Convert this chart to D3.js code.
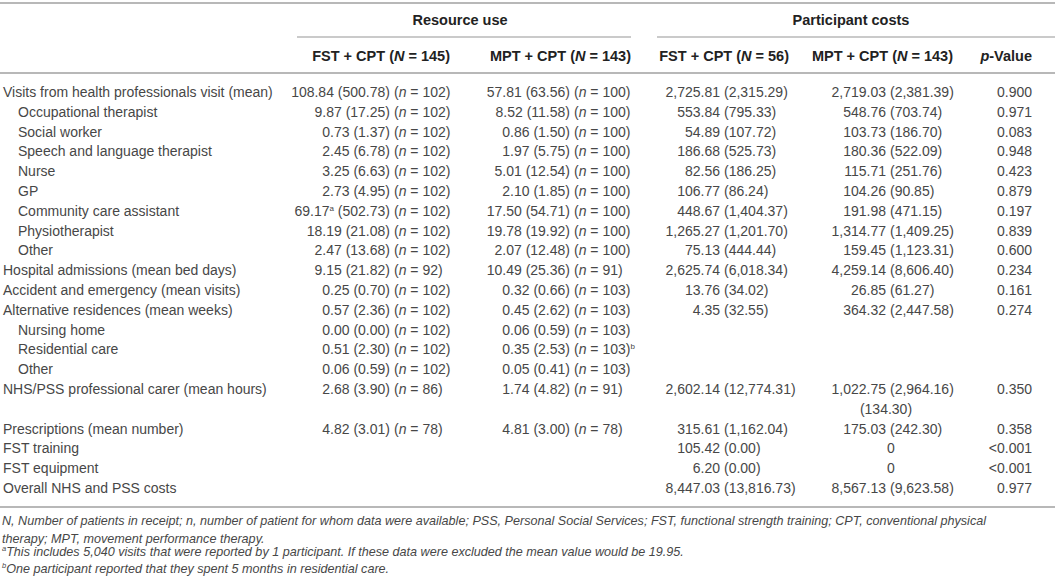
<!DOCTYPE html>
<html>
<head>
<meta charset="utf-8">
<script src="https://cdn.jsdelivr.net/npm/d3@7"></script>
<style>
  body { margin: 0; background: #fff; }
  svg { display: block; font-family: "Liberation Sans", Arial, sans-serif; }
</style>
</head>
<body>
<svg id="table"></svg>
<script>
// table data
const rowLabels = [
    "Visits from health professionals visit (mean)", "Occupational therapist", "Social worker",
    "Speech and language therapist", "Nurse", "GP", "Community care assistant", "Physiotherapist",
    "Other", "Hospital admissions (mean bed days)", "Accident and emergency (mean visits)",
    "Alternative residences (mean weeks)", "Nursing home", "Residential care", "Other",
    "NHS/PSS professional carer (mean hours)", "", "Prescriptions (mean number)",
    "FST training", "FST equipment", "Overall NHS and PSS costs"
];
const rowIndent = [0, 1, 1, 1, 1, 1, 1, 1, 1, 0, 0, 0, 1, 1, 1, 0, 0, 0, 0, 0, 0];

const fstUseMean = [108.84, 9.87, 0.73, 2.45, 3.25, 2.73, 69.17, 18.19, 2.47, 9.15, 0.25, 0.57, 0.00, 0.51, 0.06, 2.68, null, 4.82, null, null, null];
const fstUseSd   = [500.78, 17.25, 1.37, 6.78, 6.63, 4.95, 502.73, 21.08, 13.68, 21.82, 0.70, 2.36, 0.00, 2.30, 0.59, 3.90, null, 3.01, null, null, null];
const fstUseN    = [102, 102, 102, 102, 102, 102, 102, 102, 102, 92, 102, 102, 102, 102, 102, 86, null, 78, null, null, null];

const mptUseMean = [57.81, 8.52, 0.86, 1.97, 5.01, 2.10, 17.50, 19.78, 2.07, 10.49, 0.32, 0.45, 0.06, 0.35, 0.05, 1.74, null, 4.81, null, null, null];
const mptUseSd   = [63.56, 11.58, 1.50, 5.75, 12.54, 1.85, 54.71, 19.92, 12.48, 25.36, 0.66, 2.62, 0.59, 2.53, 0.41, 4.82, null, 3.00, null, null, null];
const mptUseN    = [100, 100, 100, 100, 100, 100, 100, 100, 100, 91, 103, 103, 103, 103, 103, 91, null, 78, null, null, null];

const fstCostMean = [2725.81, 553.84, 54.89, 186.68, 82.56, 106.77, 448.67, 1265.27, 75.13, 2625.74, 13.76, 4.35, null, null, null, 2602.14, null, 315.61, 105.42, 6.20, 8447.03];
const fstCostSd   = [2315.29, 795.33, 107.72, 525.73, 186.25, 86.24, 1404.37, 1201.70, 444.44, 6018.34, 34.02, 32.55, null, null, null, 12774.31, null, 1162.04, 0.00, 0.00, 13816.73];
const mptCostMean = [2719.03, 548.76, 103.73, 180.36, 115.71, 104.26, 191.98, 1314.77, 159.45, 4259.14, 26.85, 364.32, null, null, null, 1022.75, null, 175.03, 0, 0, 8567.13];
const mptCostSd   = [2381.39, 703.74, 186.70, 522.09, 251.76, 90.85, 471.15, 1409.25, 1123.31, 8606.40, 61.27, 2447.58, null, null, null, 2964.16, 134.30, 242.30, null, null, 9623.58];

const pValues = ["0.900", "0.971", "0.083", "0.948", "0.423", "0.879", "0.197", "0.839", "0.600", "0.234", "0.161", "0.274", "", "", "", "0.350", "", "0.358", "<0.001", "<0.001", "0.977"];

// footnote markers: [row, where, letter]
const superscripts = [[6, "fstMean", "a"], [13, "mptN", "b"]];

const groupHeaders = ["Resource use", "Participant costs"];
const colHeaders = [
    ["FST + CPT (", "N", " = 145)"], ["MPT + CPT (", "N", " = 143)"],
    ["FST + CPT (", "N", " = 56)"], ["MPT + CPT (", "N", " = 143)"], ["", "p", "-Value"]
];

const footnotes = [
    "N, Number of patients in receipt; n, number of patient for whom data were available; PSS, Personal Social Services; FST, functional strength training; CPT, conventional physical",
    "therapy; MPT, movement performance therapy.",
    "This includes 5,040 visits that were reported by 1 participant. If these data were excluded the mean value would be 19.95.",
    "One participant reported that they spent 5 months in residential care."
];
const footnoteMarks = ["", "", "a", "b"];

const width = 1055, height = 586;
const fmt = d3.format(",.2f");
const textColor = "#474747", headColor = "#222", ruleColor = "#b8b8b8";

const svg = d3.select("#table").attr("width", width).attr("height", height);
svg.append("rect").attr("width", width).attr("height", height).attr("fill", "#fff");

// row positions
const y = d3.scaleLinear().domain([0, rowLabels.length - 1]).range([92, 488]);

// column anchors (split points for aligned text)
const col = {
    labelX: 3, indentX: 18,
    useFstSplit: 390, useMptSplit: 570,
    costFstSplit: 720, costMptSplit: 886,
    pRight: 1032
};

// rules
function rule(x1, x2, yy, w) {
    svg.append("line").attr("x1", x1).attr("x2", x2).attr("y1", yy).attr("y2", yy)
        .attr("stroke", ruleColor).attr("stroke-width", w);
}
rule(0, width, 3, 2);
rule(297, 631, 37, 1.5);
rule(657, width, 37, 1.5);
rule(0, width, 73, 2);
rule(0, width, 507, 2);

// group headers
const groupX = [460, 851];
svg.selectAll(".group").data(groupHeaders).enter().append("text")
    .attr("class", "group")
    .attr("x", (d, i) => groupX[i]).attr("y", 20).attr("dy", "0.35em")
    .attr("text-anchor", "middle")
    .attr("font-size", 14.5).attr("font-weight", "bold").attr("fill", headColor)
    .text(d => d);

// column headers
const headX = [450, 631, 789, 953, 1032];
const head = svg.selectAll(".colhead").data(colHeaders).enter().append("text")
    .attr("class", "colhead")
    .attr("x", (d, i) => headX[i]).attr("y", 56).attr("dy", "0.35em")
    .attr("text-anchor", "end")
    .attr("font-size", 14.5).attr("font-weight", "bold").attr("fill", headColor);
head.filter(d => d[0]).append("tspan").text(d => d[0]);
head.append("tspan").attr("font-style", "italic").text(d => d[1]);
head.append("tspan").text(d => d[2]);

// body
const body = svg.append("g").attr("font-size", 14).attr("fill", textColor);

const rows = rowLabels.map((label, i) => ({ label, i })).filter(d => d.label);
body.selectAll(".label").data(rows).enter().append("text")
    .attr("class", "label")
    .attr("x", d => rowIndent[d.i] ? col.indentX : col.labelX)
    .attr("y", d => y(d.i)).attr("dy", "0.35em")
    .text(d => d.label);

// raised letter; the following tspan is dropped back by `back`
function sup(sel, letter) {
    sel.append("tspan").attr("font-size", 8).attr("dy", -5).text(letter);
}

// resource use columns: "mean (sd)" right aligned, "(n = x)" starts at the split
function useColumn(means, sds, ns, split, key) {
    means.forEach((m, i) => {
        if (m === null) return;
        const left = body.append("text").attr("x", split).attr("y", y(i)).attr("dy", "0.35em")
            .attr("text-anchor", "end");
        left.append("tspan").text(fmt(m));
        const supMean = superscripts.filter(s => s[0] === i && s[1] === key + "Mean");
        supMean.forEach(s => sup(left, s[2]));
        left.append("tspan").attr("dy", supMean.length ? 5 : null).text(" (" + fmt(sds[i]) + ")");

        const right = body.append("text").attr("x", split + 4).attr("y", y(i)).attr("dy", "0.35em");
        right.append("tspan").text("(");
        right.append("tspan").attr("font-style", "italic").text("n");
        right.append("tspan").text(" = " + ns[i] + ")");
        superscripts.filter(s => s[0] === i && s[1] === key + "N").forEach(s => sup(right, s[2]));
    });
}
useColumn(fstUseMean, fstUseSd, fstUseN, col.useFstSplit, "fst");
useColumn(mptUseMean, mptUseSd, mptUseN, col.useMptSplit, "mpt");

// cost columns: mean right aligned at the split, "(sd)" after it
function costColumn(means, sds, split) {
    means.forEach((m, i) => {
        if (m === null && sds[i] !== null) {
            // wrapped continuation of the cell above
            body.append("text").attr("x", split).attr("y", y(i)).attr("dy", "0.35em")
                .attr("text-anchor", "middle").text("(" + fmt(sds[i]) + ")");
            return;
        }
        if (m === null) return;
        if (sds[i] === null) {
            body.append("text").attr("x", split + 5).attr("y", y(i)).attr("dy", "0.35em")
                .attr("text-anchor", "middle").text(d3.format("d")(m));
            return;
        }
        body.append("text").attr("x", split).attr("y", y(i)).attr("dy", "0.35em")
            .attr("text-anchor", "end").text(fmt(m));
        body.append("text").attr("x", split + 4).attr("y", y(i)).attr("dy", "0.35em")
            .text("(" + fmt(sds[i]) + ")");
    });
}
costColumn(fstCostMean, fstCostSd, col.costFstSplit);
costColumn(mptCostMean, mptCostSd, col.costMptSplit);

const pRows = pValues.map((p, i) => ({ p, i })).filter(d => d.p);
body.selectAll(".pval").data(pRows).enter().append("text")
    .attr("class", "pval")
    .attr("x", col.pRight).attr("y", d => y(d.i)).attr("dy", "0.35em")
    .attr("text-anchor", "end")
    .text(d => d.p);

// footnotes
const noteY = d3.scaleLinear().domain([0, footnotes.length - 1]).range([521, 573]);
const notes = svg.append("g").attr("font-size", 12.6).attr("font-style", "italic").attr("fill", textColor);
footnotes.forEach((t, i) => {
    const tx = notes.append("text").attr("x", 2).attr("y", noteY(i)).attr("dy", "0.35em");
    if (footnoteMarks[i]) {
        tx.append("tspan").attr("font-size", 7.5).attr("dy", -5).text(footnoteMarks[i]);
        tx.append("tspan").attr("dy", 5).text(t);
    } else {
        tx.text(t);
    }
});
</script>
</body>
</html>
